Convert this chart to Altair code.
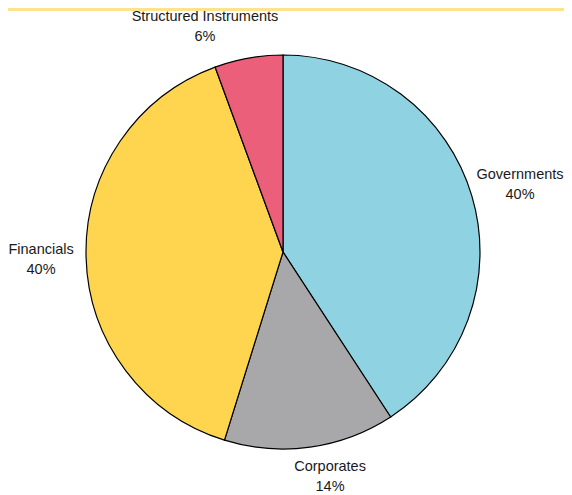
import altair as alt
import pandas as pd

categories = ["Governments", "Corporates", "Financials", "Structured Instruments"]
values = [40.8, 14.0, 39.6, 5.6]
pct_labels = ["40%", "14%", "40%", "6%"]
colors = ["#8FD3E2", "#A8A8AA", "#FFD54F", "#EC5F7B"]

df = pd.DataFrame({
    "category": categories,
    "value": values,
    "pct": pct_labels,
    "order": list(range(len(categories))),
})
df["label"] = df["category"] + "\n" + df["pct"]

CX, CY = 275, 244
total = float(sum(values))

pie = alt.Chart(df).mark_arc(outerRadius=197, stroke="black", strokeWidth=1.2).encode(
    theta=alt.Theta("value:Q", stack=True, scale=alt.Scale(domain=[0, total])),
    order=alt.Order("order:Q"),
    color=alt.Color("category:N", scale=alt.Scale(domain=categories, range=colors), legend=None),
    x=alt.value(CX),
    y=alt.value(CY),
)

offsets = {
    "Governments": (7, -9),
    "Corporates": (14, -23),
    "Financials": (-2, -8),
    "Structured Instruments": (-36, 1),
}

layers = [pie]
for cat in categories:
    dx, dy = offsets[cat]
    t = alt.Chart(df).transform_window(
        cum="sum(value)", sort=[alt.SortField("order")]
    ).transform_calculate(
        mid="datum.cum - datum.value / 2"
    ).transform_filter(
        alt.datum.category == cat
    ).mark_text(
        radius=240, dx=dx, dy=dy, font="Liberation Sans", fontSize=14.5,
        lineBreak="\n", lineHeight=20, color="#1a1a1a", align="center", baseline="middle",
    ).encode(
        theta=alt.Theta("mid:Q", stack=None, scale=alt.Scale(domain=[0, total])),
        text="label:N",
        x=alt.value(CX),
        y=alt.value(CY),
    )
    layers.append(t)

band = alt.Chart(pd.DataFrame({"b": [1]})).mark_rect(color="#FFE38C").encode(
    x=alt.value(0), x2=alt.value(556), y=alt.value(0), y2=alt.value(3)
)
layers.append(band)

chart = alt.layer(*layers).properties(
    width=556, height=487, padding=0, autosize=alt.AutoSizeParams(type="none")
).configure_view(stroke=None)

chart.save("out.html", embed_options={"renderer": "svg", "actions": False})
